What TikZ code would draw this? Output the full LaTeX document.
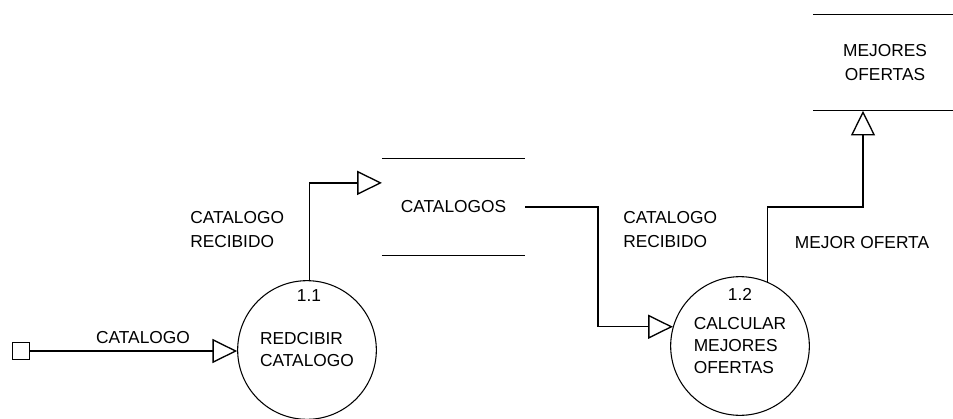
\documentclass[tikz,border=0pt]{standalone}
\usepackage{fontspec}
\setmainfont{Liberation Sans}
\usetikzlibrary{arrows.meta,calc,positioning}

\begin{document}
\begin{tikzpicture}[x=0.75pt,y=-0.75pt,
  every node/.style={font=\fontsize{13}{18}\selectfont},
  proceso/.style={circle,draw,line width=0.8pt,minimum size=104pt,inner sep=0pt,
    align=left,font=\fontsize{13}{16.5}\selectfont},
  almacen/.style={rectangle,minimum width=107pt,minimum height=72pt,inner sep=0pt,align=center},
  flujo/.style={line width=1pt,-{Triangle[open,length=18.5pt,width=18pt,line width=1pt]}},
  etiqueta/.style={inner sep=0pt,align=left}]
\useasboundingbox (0,0) rectangle (953,418);

% Processes and stores
\node[proceso] (p11) at (307,350) {REDCIBIR\\CATALOGO};
\node[proceso] (p12) at (740,346) {CALCULAR\\MEJORES\\OFERTAS};
\node (n11) at ($(p11.north)+(2,15)$) {1.1};
\node (n12) at ($(p12.north)+(0,18)$) {1.2};
\node[almacen] (catalogos) at (453.5,207) {CATALOGOS};
\node[almacen] (mejores) at (885,62.5) {MEJORES\\OFERTAS};
\foreach \s in {catalogos,mejores}{
  \draw[line width=1pt] (\s.north west) -- (\s.north east);
  \draw[line width=1pt] (\s.south west) -- (\s.south east);
}
\node[draw,line width=1pt,minimum size=12.5pt,inner sep=0pt] (fuente) at (21,351) {};

% Data flows
\draw[flujo] (fuente.east) -- (fuente.east -| p11.west);
\draw[flujo] (p11.88) |- ($(catalogos.north west)!.25!(catalogos.south west)$);
\draw[flujo] (catalogos.east) -- ++(73,0) |- (p12.164);
\coordinate (codo) at (863,207);
\draw[flujo] (p12.67) |- (codo) -- (codo |- mejores.south);

% Flow labels
\node (lcatalogo) at (143,338) {CATALOGO};
\node[etiqueta,anchor=west] (lrecibido1) at (190,229.5) {CATALOGO\\RECIBIDO};
\node[etiqueta,anchor=west] (lrecibido2) at (623,229.5) {CATALOGO\\RECIBIDO};
\node (lmejor) at (862,243) {MEJOR OFERTA};
\end{tikzpicture}
\end{document}
